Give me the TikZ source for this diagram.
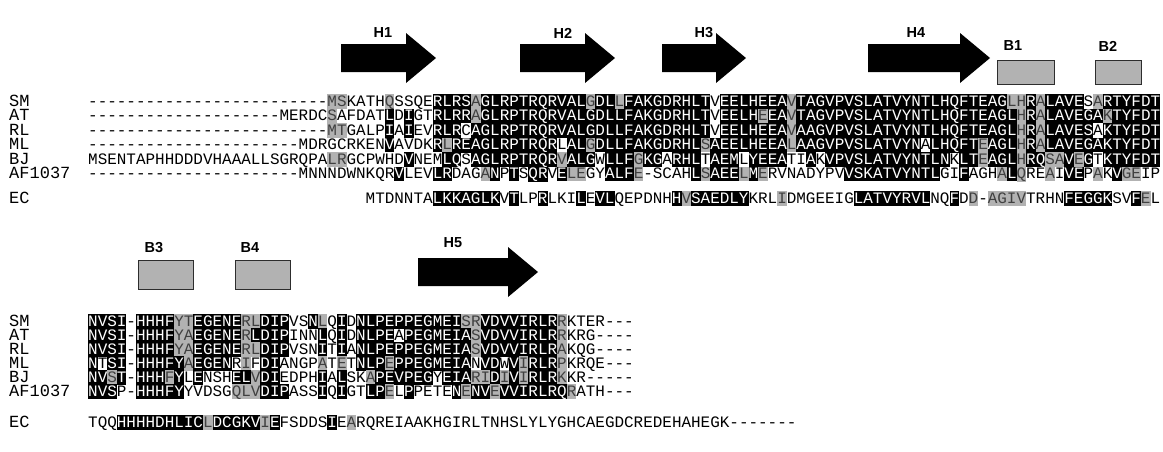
\documentclass[tikz,border=0pt]{standalone}
\usepackage{fontspec}
\setmonofont{Liberation Mono}
\newfontfamily\labfont{Liberation Sans}
\newcommand\Dd[1]{\foreach\k in {1,...,#1}{-\kern0pt}}
\newcommand\hstrut{\rule[-2.3pt]{0pt}{14.6pt}}
\newcommand\B[1]{{\setlength\fboxsep{0pt}\colorbox{black}{\hstrut\color{white}#1}}}
\newcommand\G[1]{{\setlength\fboxsep{0pt}\colorbox{gray!60}{\hstrut\color{black!75}#1}}}
\newcommand\harrow[3]{\fill[helix] (#1,#3-14) -- (#2-30,#3-14) -- (#2-30,#3-25) -- (#2,#3) -- (#2-30,#3+25) -- (#2-30,#3+14) -- (#1,#3+14) -- cycle;}
\begin{document}
\begin{tikzpicture}[x=1pt,y=-1pt,
  seq/.style={inner sep=0pt, anchor=base west, font=\fontsize{15.95}{15.95}\selectfont\ttfamily},
  lbl/.style={inner sep=0pt, anchor=base west, font=\fontsize{17}{17}\selectfont\ttfamily},
  helix/.style={fill=black},
  strand/.style={fill=gray!60, draw=gray!35!black, line width=0.8pt},
  sslab/.style={inner sep=0pt, font=\fontsize{14.5}{14.5}\selectfont\labfont\bfseries}]
\useasboundingbox (0,0) rectangle (1163,451);
% secondary structure, block 1
\node[sslab] (h1) at (383,33) {H1};
\node[sslab] (h2) at (563,33) {H2};
\node[sslab] (h3) at (704,33) {H3};
\node[sslab] (h4) at (916,33) {H4};
\node[sslab] (b1) at (1013,46) {B1};
\node[sslab] (b2) at (1108,46) {B2};
\harrow{341}{436}{58}
\harrow{520}{615}{58}
\harrow{662}{746}{58}
\harrow{868}{990}{58}
\draw[strand] (997,60) rectangle (1054,84);
\draw[strand] (1095,60) rectangle (1141,84);
% block 1 labels
\node[lbl] (l1) at (9,106.3) {SM};
\node[lbl] (l2) at (9,120.8) {AT};
\node[lbl] (l3) at (9,135.3) {RL};
\node[lbl] (l4) at (9,149.8) {ML};
\node[lbl] (l5) at (9,164.3) {BJ};
\node[lbl] (l6) at (9,178.8) {AF1037};
\node[lbl] (l7) at (9,203.3) {EC};
% block 1 sequences
\node[seq] (s1) at (88,106.3) {\Dd{25}\G{MS}KATH\G{Q}SSQE\B{RLRS}\G{A}\B{GLRPTRQRVAL}\G{G}\B{DL}\G{L}\B{FAKGDRHLT}V\B{EELHEEA}\G{V}\B{TAGVPVSLATVYNTLHQFTEAG}\G{LH}\B{R}\G{A}\B{LAVE}S\G{A}\B{RTYFDT}};
\node[seq] (s2) at (88,120.8) {\Dd{20}MERDC\G{S}AFDAT\B{L}D\B{I}GT\B{RLRR}\G{A}\B{GLRPTRQRVALGDLLFAKGDRHLT}V\B{EELH}\G{E}\B{EA}\G{V}\B{TAGVPVSLATVYNTLHQFTEAGL}\G{H}\B{R}\G{A}\B{LAVEGA}\G{K}\B{TYFDT}};
\node[seq] (s3) at (88,135.3) {\Dd{25}\G{MT}GALP\B{I}A\B{I}EV\B{RLR}C\B{AGLRPTRQRVALGDLLFAKGDRHLT}V\B{EELHEEA}\G{V}\B{AAGVPVSLATVYNTLHQFTEAGL}\G{H}\B{R}\G{A}\B{LAVES}A\B{KTYFDT}};
\node[seq] (s4) at (88,149.8) {\Dd{22}MDRGCRKEN\B{V}AVDK\B{R}\G{L}\B{REAGLRPTRQR}L\B{AL}\G{G}\B{DLLFAKGDRHL}\G{S}\B{AEELHEEA}\G{L}\B{AAGVPVSLATVYN}A\B{LHQFT}\G{E}\B{AGL}\G{H}\B{R}\G{A}\B{LAVEGAKTYFDT}};
\node[seq] (s5) at (88,164.3) {MSENTAPHHDDDVHAAALLSGRQPA\G{LR}GCPWHD\B{V}NEM\B{LQ}S\B{AGLRPTRQR}\G{V}\B{ALG}W\B{LLF}\G{G}\B{KG}A\B{RHL}T\B{AEM}L\B{YEEA}TI\B{A}K\B{VPVSLATVYNTLN}K\B{LT}\G{E}\B{AGL}\G{H}\B{RQ}\G{SA}\B{V}\G{E}\B{G}T\B{KTYFDT}};
\node[seq] (s6) at (88,178.8) {\Dd{22}MNNNDWNKQR\B{V}LEV\B{LR}DAG\G{A}\B{N}P\B{T}S\B{QR}V\B{E}\G{LE}GY\B{ALF}\G{E}-SCAH\B{L}\G{S}\B{AEE}\G{L}\B{M}\G{E}RVNADYPV\B{VSKATVYNTL}GI\B{F}AGH\G{A}\B{L}\G{Q}RE\G{A}I\B{VE}P\G{A}K\B{V}\G{GE}IP};
\node[seq] (s7) at (365.5,203.3) {MTDNNTA\B{LKKAGLK}V\B{T}LP\B{R}LKI\B{L}E\B{VL}QEPDNH\B{H}\G{V}\B{SAEDLY}KRL\G{I}DMGEEIG\B{LATVYRVL}NQ\B{F}D\G{D}-\G{AGIV}TRHN\B{F}\B{EG}\B{GK}SV\B{F}\G{E}L};
% secondary structure, block 2
\node[sslab] (b3) at (154,248) {B3};
\node[sslab] (b4) at (250,248) {B4};
\node[sslab] (h5) at (453,243) {H5};
\draw[strand] (138,260) rectangle (193,289);
\draw[strand] (235,260) rectangle (290,289);
\harrow{418}{538}{272}
% block 2 labels
\node[lbl] (m1) at (9,326.3) {SM};
\node[lbl] (m2) at (9,340.3) {AT};
\node[lbl] (m3) at (9,354.3) {RL};
\node[lbl] (m4) at (9,368.3) {ML};
\node[lbl] (m5) at (9,382.3) {BJ};
\node[lbl] (m6) at (9,396.3) {AF1037};
\node[lbl] (m7) at (9,427.3) {EC};
% block 2 sequences
\node[seq] (t1) at (88,326.3) {\B{NVSI}-\B{HHHF}\G{YT}\B{EGENE}\G{RL}\B{DIP}VS\B{N}\G{L}Q\B{I}D\B{NLPEPPEGMEI}\G{SR}\B{VDVVIRLR}\G{R}KTER\Dd{3}};
\node[seq] (t2) at (88,340.3) {\B{NVSI}-\B{HHHF}\G{YA}\B{EGENE}\G{R}\B{L}\B{DIP}INN\B{L}Q\B{I}D\B{NLPE}A\B{PEGMEIA}\G{S}\B{VDVVIRLR}\G{R}KRG\Dd{4}};
\node[seq] (t3) at (88,354.3) {\B{NVSI}-\B{HHHF}\G{YA}\B{EGENE}\G{RL}\B{DIP}VSN\B{I}T\B{I}A\B{NLPEPPEGMEIA}\G{S}\B{VDVVIRLR}\G{A}KQG\Dd{4}};
\node[seq] (t4) at (88,368.3) {\B{N}T\B{SI}-\B{HHHFY}\G{A}\B{EGEN}R\G{I}F\B{DI}ANGP\G{A}T\G{E}T\B{NLP}\G{E}\B{PPEGMEIA}N\B{VD}W\B{V}\G{I}\B{RLR}\G{P}KRQE\Dd{3}};
\node[seq] (t5) at (88,382.3) {\B{NV}\G{S}\B{T}-\B{HHH}\G{F}\B{Y}L\B{E}NSH\B{EL}\G{V}\B{DI}EDPH\B{I}A\B{L}SK\G{A}\B{PEVPEG}Y\B{EIA}\G{RI}\B{D}\G{I}\B{V}\G{I}\B{RLR}\G{K}KR\Dd{5}};
\node[seq] (t6) at (88,396.3) {\B{NVS}P-\B{HHHFY}YVDSG\G{QLV}\B{DIP}ASS\B{I}Q\B{I}GT\B{LP}\G{E}L\B{P}PETE\B{N}\G{E}\B{N}\B{V}\G{E}\B{VVIRLRQ}\G{R}ATH\Dd{3}};
\node[seq] (t7) at (88,427.3) {TQQ\B{HHHHDHLIC}\G{L}\B{DCGKV}\G{I}\B{E}FSDDS\B{I}E\G{A}RQREIAAKHGIRLTNHSLYLYGHCAEGDCREDEHAHEGK\Dd{7}};
\end{tikzpicture}
\end{document}
